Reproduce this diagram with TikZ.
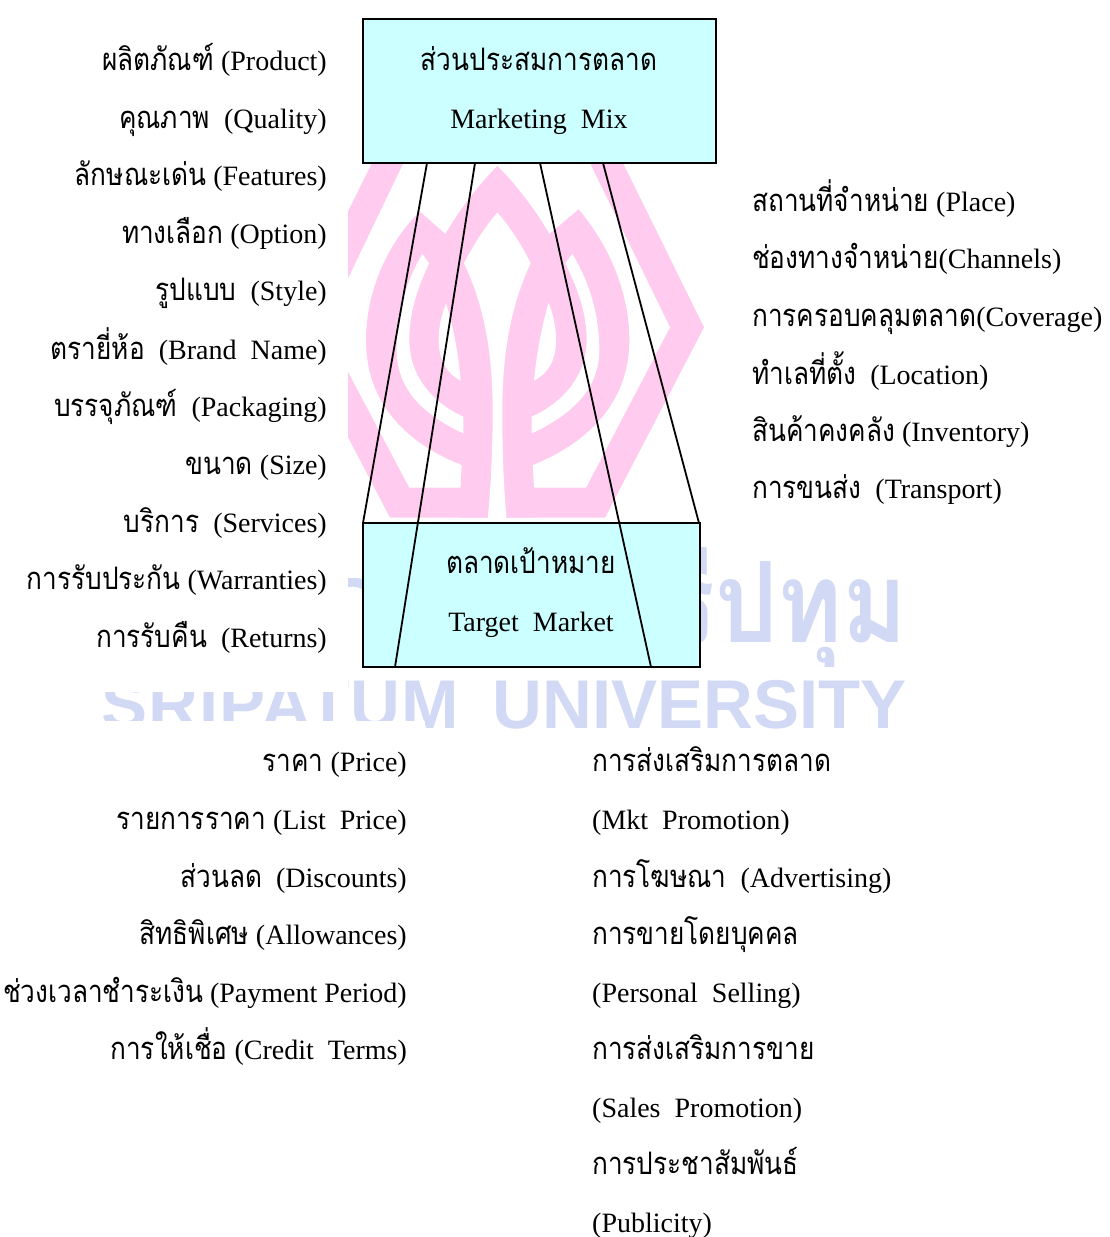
\documentclass[tikz,border=0pt]{standalone}
\usepackage{fontspec}
\setmainfont{Liberation Serif}
\newfontfamily\thaifont[Script=Thai,FakeStretch=0.845]{Loma}
\newfontfamily\wmthai[Script=Thai,FakeStretch=0.88]{Loma}
\newfontfamily\wmlatin{Liberation Sans}
\newcommand\T[1]{{\thaifont\fontsize{31}{30}\selectfont #1}}
\definecolor{boxfill}{HTML}{CCFFFF}
\definecolor{wmpink}{HTML}{FFCCF0}
\definecolor{wmblue}{HTML}{D2D9F5}
\tikzset{
  listtext/.style={inner sep=0pt,font=\fontsize{28}{30}\selectfont,text=black},
  lefttext/.style={listtext,anchor=base east},
  righttext/.style={listtext,anchor=base west},
  midtext/.style={listtext,anchor=base},
  panel/.style={draw=black,line width=1.8pt,fill=boxfill,inner sep=0pt},
  link/.style={draw=black,line width=1.8pt},
}
\begin{document}
\begin{tikzpicture}[x=1pt,y=-1pt]
\useasboundingbox (0,0) rectangle (1109,1237);
% ---- pink emblem watermark
\begin{scope}
\clip (348,150) rectangle (720,518);
\begin{scope}[shift={(340,150)},x=0.33333pt,y=-0.33333pt]
\fill[wmpink] (1092,532) -- (795,1103) -- (150,1103) -- (-148,532) -- (135,-40) -- (810,-40) -- cycle;
\fill[white] (990,532) -- (738,1013) -- (208,1013) -- (-46,532) -- (190,40) -- (190,-40) -- (750,-40) -- (750,40) -- cycle;
\fill[wmpink] (472,48) .. controls (530,105) and (590,185) .. (628,252)
  -- (716,178) .. controls (810,290) and (868,430) .. (868,570)
  .. controls (868,760) and (740,880) .. (578,945)
  -- (582,1013) -- (582,1103) -- (362,1103) -- (362,1013) -- (365,945)
  .. controls (200,880) and (78,760) .. (78,570)
  .. controls (78,430) and (140,280) .. (240,185)
  -- (316,252) .. controls (355,185) and (415,105) .. (472,48) -- cycle;
\fill[white] (472,188) .. controls (510,230) and (545,285) .. (572,340)
  .. controls (510,470) and (487,620) .. (487,780) .. controls (487,900) and (490,1000) .. (500,1110)
  -- (443,1110) .. controls (453,1000) and (458,900) .. (458,780)
  .. controls (458,620) and (435,470) .. (372,340)
  .. controls (400,285) and (435,230) .. (472,188) -- cycle;
\fill[white] (247,312) -- (267,340) .. controls (230,420) and (208,490) .. (208,570)
  .. controls (208,680) and (280,760) .. (370,800) -- (370,850)
  .. controls (240,790) and (170,710) .. (170,600) .. controls (170,490) and (200,390) .. (247,312) -- cycle;
\fill[white] (697,312) -- (676,340) .. controls (715,420) and (740,490) .. (740,570)
  .. controls (740,680) and (665,760) .. (575,800) -- (575,850)
  .. controls (705,790) and (778,710) .. (778,600) .. controls (778,490) and (745,390) .. (697,312) -- cycle;
\fill[white] (318,460) .. controls (340,530) and (355,610) .. (362,692)
  .. controls (320,670) and (296,630) .. (296,570) .. controls (296,530) and (305,495) .. (318,460) -- cycle;
\fill[white] (626,458) .. controls (605,530) and (590,610) .. (582,692)
  .. controls (625,670) and (648,630) .. (648,570) .. controls (648,530) and (640,495) .. (626,458) -- cycle;
\end{scope}
\end{scope}
% ---- blue lettering watermark
\fill[wmblue] (348,578) -- (358,578) .. controls (361,578) and (364,580) .. (364,582) -- (364,591) .. controls (360,587) and (355,586) .. (348,587) -- cycle;
\begin{scope}
\clip (348,520) rectangle (1109,666);
\node[inner sep=0pt,anchor=base east,text=wmblue,font=\wmthai\bfseries\fontsize{112}{112}\selectfont] (wmth) at (908,642) {ศรีปทุม};
\end{scope}
\begin{scope}
\clip (0,692) -- (348,692) -- (348,670) -- (1109,670) -- (1109,728) -- (425,728) -- (425,720) -- (0,720) -- cycle;
\node[inner sep=0pt,anchor=base west,text=wmblue,font=\wmlatin\bfseries\fontsize{69}{69}\selectfont] (wmen) at (101,728) {{\addfontfeature{LetterSpace=1.5}SRIPATUM}\hspace{34pt}UNIVERSITY};
\end{scope}
% ---- boxes
\node[panel,anchor=north west,minimum width=353pt,minimum height=144pt] (mix) at (362.1,18.1) {};
\node[panel,anchor=north west,minimum width=337pt,minimum height=144pt] (target) at (362.1,522.1) {};
% ---- connectors
\coordinate (m1) at (427,163); \coordinate (m2) at (475,163);
\coordinate (m3) at (540,163); \coordinate (m4) at (603,163);
\coordinate (t1) at (363,523); \coordinate (t2) at (395,667);
\coordinate (t3) at (651,667); \coordinate (t4) at (699,523);
\draw[link] (m1) -- (t1);
\draw[link] (m2) -- (t2);
\draw[link] (m3) -- (t3);
\draw[link] (m4) -- (t4);
% ---- box texts
\node[midtext] (mixth) at (539,70) {\T{ส่วนประสมการตลาด}};
\node[midtext] (mixen) at (539,128) {Marketing~~Mix};
\node[midtext] (tarth) at (531,573) {\T{ตลาดเป้าหมาย}};
\node[midtext] (taren) at (531,631) {Target~~Market};
% ---- product list
\node[lefttext] (p1) at (327,70) {\T{ผลิตภัณฑ์} (Product)};
\node[lefttext] (p2) at (327,128) {\T{คุณภาพ}~~(Quality)};
\node[lefttext] (p3) at (327,185) {\T{ลักษณะเด่น} (Features)};
\node[lefttext] (p4) at (327,243) {\T{ทางเลือก} (Option)};
\node[lefttext] (p5) at (327,300) {\T{รูปแบบ}~~(Style)};
\node[lefttext] (p6) at (327,359) {\T{ตรายี่ห้อ}~~(Brand~~Name)};
\node[lefttext] (p7) at (327,416) {\T{บรรจุภัณฑ์}~~(Packaging)};
\node[lefttext] (p8) at (327,474) {\T{ขนาด} (Size)};
\node[lefttext] (p9) at (327,532) {\T{บริการ}~~(Services)};
\node[lefttext] (p10) at (327,589) {\T{การรับประกัน} (Warranties)};
\node[lefttext] (p11) at (327,647) {\T{การรับคืน}~~(Returns)};
% ---- place list
\node[righttext] (q1) at (752,211) {\T{สถานที่จำหน่าย} (Place)};
\node[righttext] (q2) at (752,268) {\T{ช่องทางจำหน่าย}(Channels)};
\node[righttext] (q3) at (752,326) {\T{การครอบคลุมตลาด}(Coverage)};
\node[righttext] (q4) at (752,384) {\T{ทำเลที่ตั้ง}~~(Location)};
\node[righttext] (q5) at (752,441) {\T{สินค้าคงคลัง} (Inventory)};
\node[righttext] (q6) at (752,498) {\T{การขนส่ง}~~(Transport)};
% ---- price list
\node[lefttext] (r1) at (407,771) {\T{ราคา} (Price)};
\node[lefttext] (r2) at (407,829) {\T{รายการราคา} (List~~Price)};
\node[lefttext] (r3) at (407,887) {\T{ส่วนลด}~~(Discounts)};
\node[lefttext] (r4) at (407,944) {\T{สิทธิพิเศษ} (Allowances)};
\node[lefttext] (r5) at (407,1002) {\T{ช่วงเวลาชำระเงิน} (Payment Period)};
\node[lefttext] (r6) at (407,1059) {\T{การให้เชื่อ} (Credit~~Terms)};
% ---- promotion list
\node[righttext] (s1) at (592,771) {\T{การส่งเสริมการตลาด}};
\node[righttext] (s2) at (592,829) {(Mkt~~Promotion)};
\node[righttext] (s3) at (592,887) {\T{การโฆษณา}~~(Advertising)};
\node[righttext] (s4) at (592,944) {\T{การขายโดยบุคคล}};
\node[righttext] (s5) at (592,1002) {(Personal~~Selling)};
\node[righttext] (s6) at (592,1059) {\T{การส่งเสริมการขาย}};
\node[righttext] (s7) at (592,1117) {(Sales~~Promotion)};
\node[righttext] (s8) at (592,1174) {\T{การประชาสัมพันธ์}};
\node[righttext] (s9) at (592,1232) {(Publicity)};
\end{tikzpicture}
\end{document}
